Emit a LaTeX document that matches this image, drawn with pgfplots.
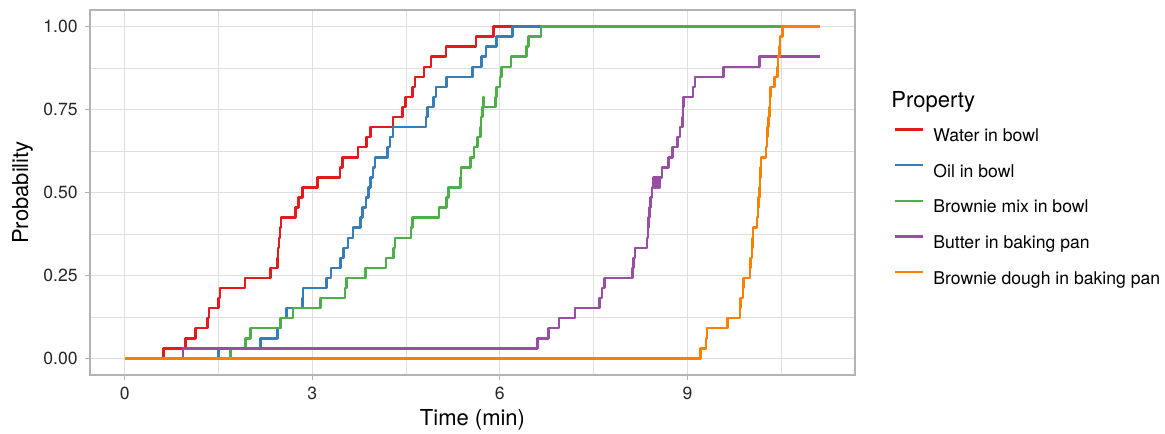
\documentclass[border=0pt]{standalone}
\usepackage{pgfplots}
\pgfplotsset{compat=1.18}
\usepackage{fontspec}
\setmainfont{TeX Gyre Heros}

\definecolor{cRed}{HTML}{E41A1C}
\definecolor{cBlue}{HTML}{377EB8}
\definecolor{cGreen}{HTML}{4DAF4A}
\definecolor{cPurple}{HTML}{984EA3}
\definecolor{cOrange}{HTML}{FF7F00}
\definecolor{gridc}{HTML}{DEDEDE}
\definecolor{borderc}{HTML}{B3B3B3}
\definecolor{tickc}{HTML}{262626}

\begin{document}
\begin{tikzpicture}
\path[use as bounding box] (-45pt,-29pt) rectangle (537.5pt,187.5pt);
\begin{axis}[
    scale only axis,
    width=382.5pt, height=182.5pt,
    xmin=-0.556, xmax=11.681,
    ymin=-0.05, ymax=1.05,
    xtick={0,3,6,9}, xticklabels={0,3,6,9},
    minor xtick={1.5,4.5,7.5,10.5},
    ytick={0,0.25,0.5,0.75,1}, yticklabels={0.00,0.25,0.50,0.75,1.00},
    minor ytick={0.125,0.375,0.625,0.875},
    /pgf/number format/assume math mode=true,
    grid=both,
    major grid style={color=gridc, line width=0.55pt},
    minor grid style={color=gridc, line width=0.3pt},
    tick pos=left, tick align=outside,
    major tick length=2.5pt, minor tick length=0pt,
    tick style={color=borderc, line width=0.5pt},
    axis line style={draw=borderc, line width=0.7pt},
    ticklabel style={font=\fontsize{8.8}{10}\selectfont, text=tickc},
    yticklabel style={anchor=east, inner sep=0pt, xshift=-3.5pt},
    xticklabel style={anchor=north, inner sep=0pt, yshift=-3.5pt},
    xlabel={Time (min)},
    ylabel={Probability},
    xlabel style={at={(axis description cs:0.5,-0.137)}, anchor=base, inner sep=0pt, font=\fontsize{11}{13}\selectfont},
    ylabel style={at={(axis description cs:-0.081,0.5)}, anchor=base, inner sep=0pt, font=\fontsize{11}{13}\selectfont},
    every axis plot/.append style={line width=1.25pt, const plot, no marks, line join=round},
    legend style={at={(rel axis cs:1.0501,0.6756)}, anchor=north west, draw=none, fill=none,
        inner sep=0pt, outer sep=0pt, row sep=9.35pt, column sep=4.65pt,
        font=\fontsize{8.8}{10}\selectfont,
        nodes={inner sep=0pt, text height=6.3pt, text depth=1.8pt}},
    legend cell align=left,
    legend image code/.code={\draw[#1, line width=1.2pt] (0pt,3.8pt) -- (14.2pt,3.8pt);},
]
% Water in bowl
\addplot[color=cRed] coordinates {
(0,0) (0.62,.0303) (0.975,.0606) (1.13,.0909) (1.32,.1212) (1.35,.1515) (1.50,.1818) (1.52,.2121)
(1.92,.2424) (2.33,.2727) (2.44,.3030) (2.45,.3333) (2.47,.3636) (2.48,.3939) (2.50,.4242)
(2.73,.4545) (2.78,.4848) (2.84,.5152) (3.08,.5455) (3.44,.5758) (3.48,.6061) (3.73,.6364)
(3.87,.6667) (3.93,.6970) (4.29,.7273) (4.44,.7576) (4.49,.7879) (4.60,.8182) (4.64,.8485)
(4.79,.8788) (4.90,.9091) (5.14,.9394) (5.62,.9697) (5.90,1) (11.125,1)
};
\addlegendentry{Water in bowl}
% Oil in bowl
\addplot[color=cBlue] coordinates {
(0,0) (1.50,.0303) (2.17,.0606) (2.44,.0909) (2.50,.1212) (2.59,.1515) (2.84,.1818) (2.85,.2121)
(3.23,.2424) (3.30,.2727) (3.45,.3030) (3.50,.3333) (3.57,.3636) (3.65,.3939) (3.77,.4242)
(3.80,.4545) (3.86,.4848) (3.90,.5152) (3.93,.5455) (3.97,.5758) (4.00,.6061) (4.20,.6364)
(4.24,.6667) (4.29,.6970) (4.82,.7273) (4.84,.7576) (4.94,.7879) (4.98,.8182) (5.15,.8485)
(5.56,.8788) (5.71,.9091) (5.78,.9394) (5.95,.9697) (6.20,1) (11.125,1)
};
\addlegendentry{Oil in bowl}
% Brownie mix in bowl
\addplot[color=cGreen] coordinates {
(0,0) (1.69,.0303) (1.93,.0606) (2.01,.0909) (2.49,.1212) (2.69,.1515) (3.13,.1818) (3.52,.2121)
(3.55,.2424) (3.85,.2727) (4.18,.3030) (4.30,.3333) (4.32,.3636) (4.58,.3939) (4.60,.4242)
(5.03,.4545) (5.15,.4848) (5.18,.5152) (5.37,.5455) (5.38,.5758) (5.53,.6061) (5.59,.6364)
(5.64,.6667) (5.69,.6970) (5.70,.7273) (5.72,.7576) (5.74,.7879) (5.74,.7576) (5.93,.7879)
(5.95,.8182) (6.00,.8485) (6.03,.8788) (6.18,.9091) (6.43,.9394) (6.46,.9697) (6.66,1) (11.125,1)
};
\addlegendentry{Brownie mix in bowl}
% Butter in baking pan
\addplot[color=cPurple] coordinates {
(0,0) (0.93,.0303) (6.60,.0606) (6.78,.0909) (6.95,.1212) (7.20,.1515) (7.59,.1818) (7.63,.2121)
(7.67,.2424) (8.12,.2727) (8.14,.3030) (8.16,.3333) (8.35,.3636) (8.37,.3939) (8.38,.4242)
(8.39,.4545) (8.41,.4848) (8.43,.5152) (8.46,.5455) (8.47,.5152) (8.48,.5455) (8.49,.5152)
(8.50,.5455) (8.51,.5152) (8.52,.5455) (8.53,.5152) (8.54,.5455) (8.55,.5152) (8.56,.5455)
(8.59,.5758) (8.70,.6061) (8.76,.6364) (8.84,.6667) (8.88,.6970) (8.92,.7273) (8.93,.7576)
(8.94,.7879) (9.09,.8182) (9.12,.8485) (9.58,.8788) (10.15,.9091) (11.125,.9091)
};
\addlegendentry{Butter in baking pan}
% Brownie dough in baking pan
\addplot[color=cOrange] coordinates {
(0,0) (9.21,.0303) (9.30,.0606) (9.31,.0909) (9.64,.1212) (9.84,.1515) (9.85,.1818) (9.89,.2121)
(9.90,.2424) (10.00,.2727) (10.01,.3030) (10.03,.3333) (10.04,.3636) (10.05,.3939) (10.11,.4242)
(10.13,.4545) (10.14,.4848) (10.15,.5152) (10.16,.5455) (10.17,.5758) (10.18,.6061) (10.26,.6364)
(10.27,.6667) (10.28,.6970) (10.30,.7273) (10.31,.7576) (10.32,.7879) (10.33,.8182) (10.39,.8485)
(10.44,.8788) (10.45,.9091) (10.47,.9394) (10.48,.9697) (10.52,1) (11.125,1)
};
\addlegendentry{Brownie dough in baking pan}
\end{axis}
\node[anchor=base west, inner sep=0pt, font=\fontsize{11}{13}\selectfont] at (400.5pt,133.85pt) {Property};
\end{tikzpicture}
\end{document}
